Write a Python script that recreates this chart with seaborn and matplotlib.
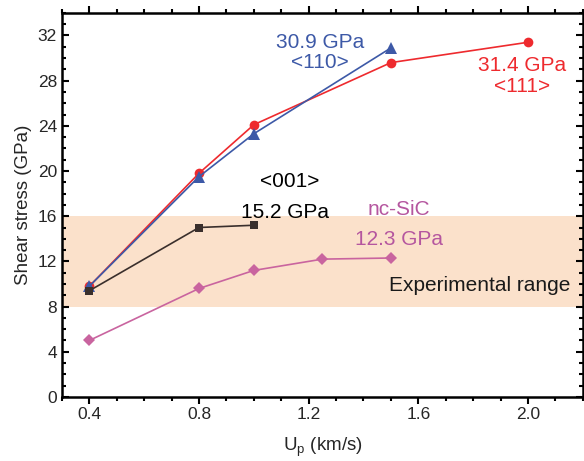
import matplotlib
matplotlib.use("Agg")
import matplotlib.pyplot as plt
from matplotlib.ticker import MultipleLocator
import seaborn as sns
import pandas as pd

# Shear stress versus particle velocity for each loading direction
up_111 = [0.4, 0.8, 1.0, 1.5, 2.0]
tau_111 = [9.8, 19.8, 24.1, 29.6, 31.4]

up_110 = [0.4, 0.8, 1.0, 1.5]
tau_110 = [9.8, 19.5, 23.3, 30.9]

up_001 = [0.4, 0.8, 1.0]
tau_001 = [9.4, 15.0, 15.2]

up_nc = [0.4, 0.8, 1.0, 1.25, 1.5]
tau_nc = [5.0, 9.6, 11.2, 12.2, 12.3]

exp_range = (8, 16)

sns.set_theme(style="ticks")
plt.rcParams["font.family"] = ["Liberation Sans", "DejaVu Sans"]

fig, ax = plt.subplots(figsize=(5.84, 4.61), dpi=100)
fig.subplots_adjust(left=0.106, right=0.998, top=0.972, bottom=0.139)

ax.axhspan(*exp_range, color="#fbe1cb", zorder=0, lw=0)

series = [
    (up_111, tau_111, "#ee2a2e", "o", 7),
    (up_110, tau_110, "#3d59a7", "^", 8),
    (up_001, tau_001, "#3a2f2c", "s", 6),
    (up_nc, tau_nc, "#c9649f", "D", 6),
]
for x, y, c, m, ms in series:
    df = pd.DataFrame({"Up": x, "tau": y})
    sns.lineplot(data=df, x="Up", y="tau", ax=ax, color=c, marker=m,
                 markersize=ms, markeredgewidth=0, lw=1.2, zorder=3)

ax.set_xlim(0.3, 2.2)
ax.set_ylim(0, 34)
ax.xaxis.set_major_locator(MultipleLocator(0.4))
ax.xaxis.set_minor_locator(MultipleLocator(0.1))
ax.yaxis.set_major_locator(MultipleLocator(4))
ax.yaxis.set_minor_locator(MultipleLocator(1))
ax.xaxis.set_major_formatter(plt.FuncFormatter(lambda v, p: f"{v:.1f}"))

ax.tick_params(axis="both", which="both", labelsize=12.5, width=1.5, color="black")
ax.tick_params(axis="x", which="both", direction="out", top=True)
ax.tick_params(axis="y", which="both", direction="in", right=True)
ax.tick_params(which="major", length=5)
ax.tick_params(which="minor", length=3)
ax.tick_params(axis="x", which="major", pad=2)
for s in ax.spines.values():
    s.set_linewidth(1.8)
    s.set_color("black")

ax.set_xlabel("U$_\\mathregular{p}$ (km/s)", fontsize=13.5, labelpad=10)
ax.set_ylabel("Shear stress (GPa)", fontsize=13.5, labelpad=4)

fs = 15
ax.text(1.24, 30.5, "30.9 GPa\n<110>", color="#3d59a7", fontsize=fs,
        ha="center", va="center", linespacing=1.1)
ax.text(1.98, 28.4, "31.4 GPa\n<111>", color="#ee2a2e", fontsize=fs,
        ha="center", va="center", linespacing=1.1)
ax.text(1.13, 19.1, "<001>", color="black", fontsize=fs, ha="center", va="center")
ax.text(1.115, 16.3, "15.2 GPa", color="black", fontsize=fs, ha="center", va="center")
ax.text(1.53, 16.6, "nc-SiC", color="#b5569f", fontsize=fs, ha="center", va="center")
ax.text(1.53, 13.9, "12.3 GPa", color="#b5569f", fontsize=fs, ha="center", va="center")
ax.text(1.825, 9.85, "Experimental range", color="#1a1a1a", fontsize=fs,
        ha="center", va="center")

fig.savefig("out.png", dpi=100)
